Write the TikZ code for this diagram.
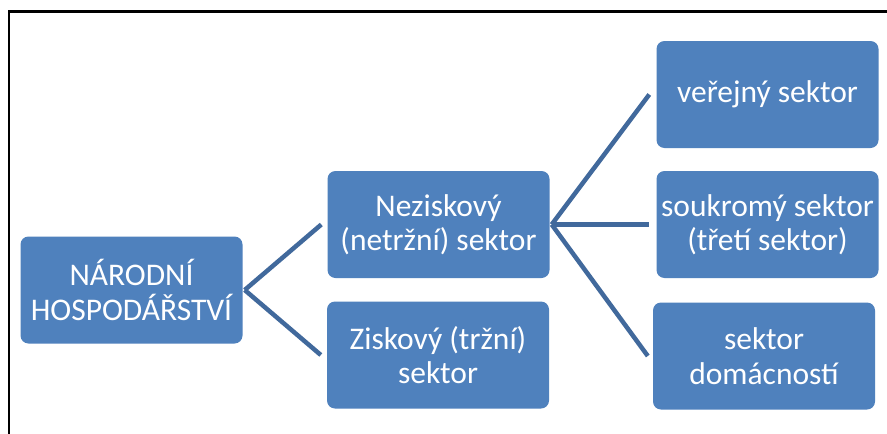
\documentclass[tikz,border=0pt]{standalone}
\usepackage{fontspec}
\setmainfont{Carlito}
\definecolor{boxblue}{HTML}{4F81BD}
\definecolor{linkblue}{HTML}{41699C}
\begin{document}
\begin{tikzpicture}[x=1pt,y=-1pt,
  box/.style={fill=boxblue, rounded corners=8pt, text=white, align=center,
    minimum width=222pt, minimum height=107pt, inner sep=0pt,
    font=\fontsize{31.5}{34.5}\selectfont},
  link/.style={draw=linkblue, line width=4.5pt}]
\useasboundingbox (0,0) rectangle (887,434);
\fill[white] (0,0) rectangle (887,434);
\draw[line width=2.2pt, line cap=rect] (9,11.5) -- (890,11.5);
\draw[line width=2.2pt] (9,11.5) -- (9,440);

\node[box] (nh) at (131.5,290) {NÁRODNÍ\\HOSPODÁŘSTVÍ};
\node[box] (nez) at (438.5,224.5) {Neziskový\\(netržní) sektor};
\node[box] (zis) at (438,355) {Ziskový (tržní)\\sektor};
\node[box] (ver) at (767.5,94.5) {veřejný sektor};
\node[box] (sou) at (767.5,224.5) {soukromý sektor\\(třetí sektor)};
\node[box] (dom) at (764,356) {sektor\\domácností};

\coordinate (p1) at ([xshift=2pt]nh.east);
\coordinate (p2) at ([xshift=2pt]nez.east);
\draw[link] (p1) -- ([xshift=-6pt]nez.west);
\draw[link] (p1) -- ([xshift=-6pt]zis.west);
\draw[link] (p2) -- ([xshift=-7pt]ver.west);
\draw[link] (p2) -- ([xshift=-7pt]sou.west);
\draw[link] (p2) -- ([xshift=-5pt]dom.west);
\end{tikzpicture}
\end{document}
